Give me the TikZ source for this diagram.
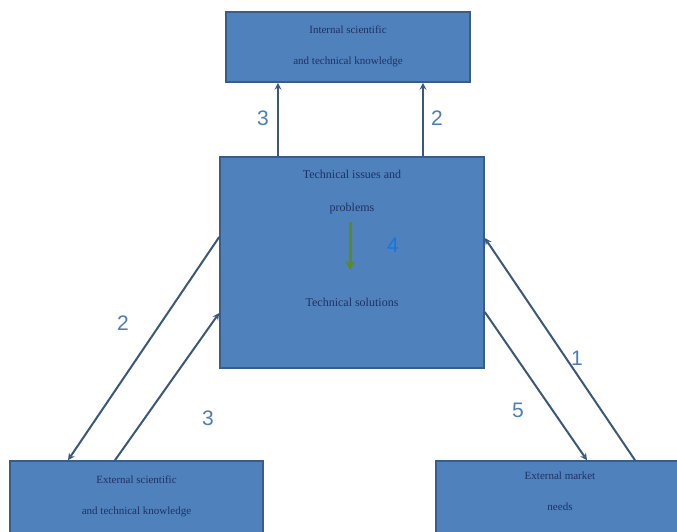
\documentclass[tikz,border=0pt]{standalone}
\usepackage{fontspec}
\setmainfont{Liberation Serif}
\newfontfamily\numfont{Liberation Sans}
\usepackage{xcolor}
\definecolor{boxblue}{HTML}{4F81BD}
\definecolor{boxedge}{HTML}{385D8A}
\definecolor{linkcol}{HTML}{3B5878}
\definecolor{numcol}{HTML}{4A7EBB}
\definecolor{txtcol}{HTML}{1F3260}
\definecolor{stepgreen}{HTML}{5C8A1C}
\definecolor{fourblue}{HTML}{1278E0}

\begin{document}
\begin{tikzpicture}[x=1pt,y=-1pt,
	box/.style={draw=boxedge,fill=boxblue,line width=1.6pt,inner sep=0pt},
	boxtext/.style={text=txtcol,align=center,font=\fontsize{11}{31}\selectfont},
	link/.style={draw=linkcol,line width=2pt,-stealth},
	num/.style={text=numcol,font=\numfont\fontsize{21}{24}\selectfont}]
		\useasboundingbox (0,0) rectangle (677,532);
		\node[box,minimum width=244pt,minimum height=70pt](top) at (348,47){};
		\node[box,minimum width=264pt,minimum height=211pt](main) at (352,262.5){};
		\node[box,minimum width=253pt,minimum height=84pt](extleft) at (136.5,503){};
		\node[box,minimum width=254pt,minimum height=84pt](market) at (563,503){};
		\node[boxtext](toptext) at (348,46){Internal scientific\\and technical knowledge};
		\node[boxtext,font=\fontsize{12}{33}\selectfont](issues) at (352,192){Technical issues and\\problems};
		\node[boxtext,font=\fontsize{12}{33}\selectfont](solutions) at (352,302){Technical solutions};
		\node[boxtext](lefttext) at (136.5,496){External scientific\\and technical knowledge};
		\node[boxtext](markettext) at (560,491){External market\\needs};
		% green step inside the main box
		\coordinate(gstart) at (350,222);
		\coordinate(gend) at (350,270);
		\draw[draw=stepgreen,line width=3pt,-stealth](gstart)--(gend);
		\draw[link]([xshift=-74pt]main.north)--([xshift=-74pt]main.north |- top.south);
		\draw[link]([xshift=71pt]main.north)--([xshift=71pt]main.north |- top.south);
		\draw[link]([yshift=25.5pt]main.west)--([xshift=-68.5pt]extleft.north);
		\draw[link]([xshift=-21.5pt]extleft.north)--([yshift=-50.5pt]main.west);
		\draw[link]([xshift=72pt]market.north)--([yshift=24.5pt]main.east);
		\draw[link]([yshift=-49.5pt]main.east)--([xshift=24pt]market.north);
		\node[num](n3top) at (263,118){3};
		\node[num](n2top) at (437,118){2};
		\node[num](n2left) at (123,323){2};
		\node[num](n3left) at (208,418){3};
		\node[num](n1) at (577,358){1};
		\node[num](n5) at (518,410){5};
		\node[num,text=fourblue](n4) at (393,245){4};
		\end{tikzpicture}
\end{document}
